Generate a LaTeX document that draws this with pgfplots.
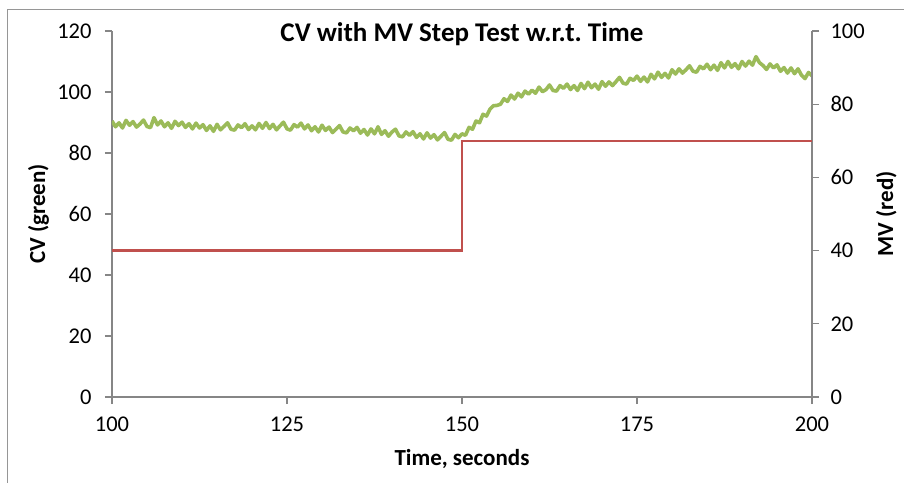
\documentclass[border=0pt]{standalone}
\usepackage{fontspec}
\setmainfont{Carlito}
\usepackage{pgfplots}
\usepackage{pgfplotstable}
\pgfplotsset{compat=1.18}
\definecolor{cvgreen}{RGB}{155,187,89}
\definecolor{mvred}{RGB}{192,80,77}
\definecolor{axgray}{RGB}{134,134,134}
\definecolor{framegray}{RGB}{150,150,150}

\pgfplotstableread{
t cv
100.0 90.5
100.5 88.6
101.0 89.9
101.5 88.2
102.0 90.7
102.5 89.1
103.0 90.3
103.5 88.5
104.0 89.5
104.5 90.8
105.0 88.7
105.5 88.3
106.0 91.6
106.5 89.2
107.0 90.5
107.5 88.6
108.0 89.9
108.5 88.1
109.0 90.4
109.5 89.0
110.0 90.1
110.5 88.4
111.0 89.6
111.5 87.9
112.0 89.8
112.5 88.2
113.0 89.3
113.5 87.4
114.0 88.9
114.5 87.1
115.0 89.4
115.5 87.6
116.0 88.7
116.5 89.9
117.0 87.8
117.5 87.5
118.0 89.2
118.5 88.3
119.0 89.6
119.5 87.7
120.0 88.9
120.5 87.6
121.0 89.7
121.5 88.1
122.0 90.0
122.5 88.0
123.0 89.4
123.5 87.6
124.0 88.9
124.5 90.1
125.0 87.9
125.5 87.5
126.0 89.3
126.5 88.5
127.0 89.8
127.5 87.9
128.0 89.2
128.5 87.3
129.0 88.6
129.5 86.9
130.0 89.1
130.5 87.4
131.0 88.5
131.5 86.7
132.0 87.8
132.5 89.0
133.0 86.9
133.5 86.6
134.0 88.2
134.5 87.3
135.0 88.4
135.5 86.5
136.0 87.7
136.5 85.9
137.0 87.9
137.5 86.3
138.0 88.6
138.5 86.1
139.0 87.3
139.5 85.5
140.0 86.9
140.5 87.8
141.0 85.6
141.5 85.3
142.0 86.9
142.5 85.8
143.0 87.0
143.5 85.1
144.0 86.3
144.5 84.6
145.0 86.6
145.5 84.9
146.0 86.0
146.5 84.3
147.0 85.5
147.5 86.7
148.0 84.5
148.5 84.2
149.0 86.1
149.5 85.0
150.0 86.3
150.5 85.8
151.0 88.4
151.5 87.8
152.0 90.5
152.5 89.9
153.0 92.7
153.5 92.1
154.0 94.4
154.5 95.5
155.0 95.6
155.5 96.0
156.0 97.8
156.5 96.9
157.0 99.0
157.5 97.7
158.0 99.6
158.5 98.4
159.0 100.3
159.5 99.3
160.0 100.6
160.5 99.6
161.0 101.6
161.5 100.1
162.0 100.8
162.5 102.3
163.0 100.5
163.5 100.3
164.0 102.1
164.5 101.2
165.0 102.6
165.5 100.8
166.0 102.1
166.5 100.5
167.0 102.8
167.5 101.1
168.0 103.2
168.5 101.4
169.0 102.6
169.5 100.9
170.0 103.4
170.5 101.9
171.0 103.3
171.5 102.1
172.0 103.4
172.5 104.8
173.0 102.9
173.5 102.6
174.0 104.5
174.5 103.8
175.0 105.2
175.5 103.5
176.0 104.9
176.5 103.3
177.0 105.8
177.5 104.3
178.0 106.5
178.5 104.8
179.0 106.1
179.5 104.6
180.0 107.3
180.5 105.9
181.0 107.6
181.5 106.2
182.0 107.3
182.5 108.6
183.0 106.8
183.5 106.5
184.0 108.4
184.5 107.6
185.0 109.1
185.5 107.3
186.0 108.8
186.5 107.1
187.0 109.6
187.5 107.9
188.0 110.0
188.5 108.1
189.0 109.3
189.5 107.6
190.0 110.0
190.5 108.5
191.0 110.1
191.5 108.8
192.0 111.6
192.5 109.6
193.0 108.7
193.5 107.4
194.0 109.2
194.5 107.9
195.0 108.9
195.5 106.8
196.0 108.0
196.5 106.2
197.0 107.9
197.5 106.0
198.0 107.6
198.5 105.5
199.0 104.4
199.5 106.4
200.0 105.3
}\cvdata

\pgfplotstableread{
t mv
100 40
150 40
150 70
200 70
}\mvdata

\pgfplotsset{
  common/.style={
    at={(112pt,85pt)}, anchor=south west,
    scale only axis, width=700pt, height=366pt,
    xmin=100, xmax=200,
    axis line style={axgray, line width=1.3pt, -},
    tick style={axgray, line width=1.3pt},
    major tick length=7pt,
    tick align=outside,
    /pgf/number format/assume math mode=true,
    ticklabel style={font=\fontsize{22.5}{24}\selectfont, text=black},
    label style={font=\bfseries\fontsize{23}{25}\selectfont},
  }
}

\begin{document}
\frenchspacing
\begin{tikzpicture}[x=1pt,y=1pt]
\useasboundingbox (0,0) rectangle (904,482);
\draw[framegray, line width=1pt] (7,-5) -- (7,472) -- (910,472);
\begin{axis}[
  common,
  ymin=0, ymax=120,
  xtick={100,125,150,175,200},
  ytick={0,20,40,60,80,100,120},
  axis x line*=bottom, axis y line*=left,
  xticklabel style={yshift=-9pt},
  yticklabel style={xshift=-10pt},
  xlabel={Time, seconds},
  ylabel={CV (green)},
  xlabel style={at={(axis description cs:0.5,-0.169)}, anchor=center},
  ylabel style={at={(axis description cs:-0.105,0.5)}, anchor=center},
  title={CV with MV Step Test w.r.t.\ Time},
  title style={at={(axis description cs:0.5,0.975)}, anchor=center, font=\bfseries\fontsize{27}{29}\selectfont},
]
\addplot[cvgreen, line width=3.6pt, line join=round] table[x=t, y=cv] {\cvdata};
\end{axis}
\begin{axis}[
  common,
  ymin=0, ymax=100,
  ytick={0,20,40,60,80,100},
  axis y line*=right, axis x line=none,
  yticklabel style={xshift=8pt},
  ylabel={MV (red)},
  ylabel style={at={(axis description cs:1.106,0.5)}, anchor=center, rotate=0},
]
\addplot[mvred, line width=2.4pt] table[x=t, y=mv] {\mvdata};
\end{axis}
\end{tikzpicture}
\end{document}
